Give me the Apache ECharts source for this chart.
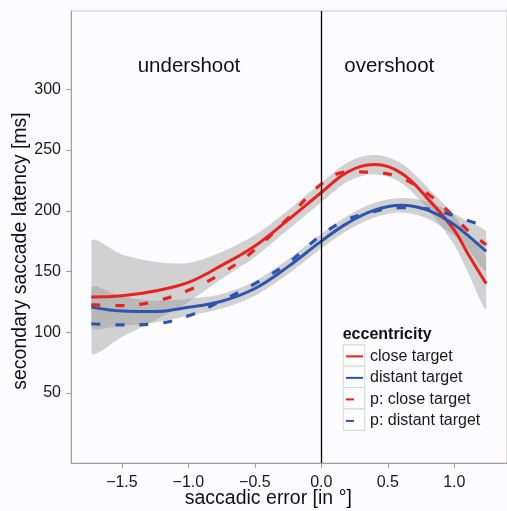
<!DOCTYPE html>
<html>
<head>
<meta charset="utf-8">
<script src="https://cdn.jsdelivr.net/npm/echarts@6/dist/echarts.min.js"></script>
<style>html,body{margin:0;padding:0;background:#fcfcfe;}#c{width:507px;height:511px;}</style>
</head>
<body>
<div id="c"></div>
<script>
// saccadic error [deg]
const xs = [-1.73, -1.5, -1.25, -1.0, -0.75, -0.5, -0.25, 0, 0.2, 0.4, 0.6, 0.8, 1.0, 1.1, 1.24];
// close target fit + CI
const closeFit   = [129, 130, 134, 141, 155, 171, 192.5, 215, 232, 238, 231, 210, 184, 165, 140];
const closeLower = [83, 96, 110, 125, 144, 162, 184.5, 207, 224, 230, 223, 201, 172, 150, 119];
const closeUpper = [175, 164, 158, 157, 166, 180, 200.5, 223, 240, 246, 239, 219, 196, 180, 161];
// distant target fit + CI
const distantFit   = [120.7, 117.5, 117, 120.5, 125.5, 136, 154, 175, 190, 200.5, 204.5, 200.5, 188.5, 180, 166.5];
const distantLower = [104.2, 105.5, 108, 113.5, 119.5, 130, 148, 169, 184, 194.5, 198.5, 193.5, 179.5, 169, 150.5];
const distantUpper = [137.2, 129.5, 126, 127.5, 131.5, 142, 160, 181, 196, 206.5, 210.5, 207.5, 197.5, 191, 182.5];
// predictions
const closePred   = [122.6, 122, 125.5, 134.5, 148.5, 168, 194, 222, 232, 231.5, 227, 214, 195, 184, 172];
const distantPred = [107, 106, 107, 113.5, 126, 140, 157, 180, 193, 199.5, 202.5, 201.5, 196, 192, 187];

const yTicks = [50, 100, 150, 200, 250, 300];
const xTicks = [-1.5, -1.0, -0.5, 0, 0.5, 1.0];
const names = ['close target', 'distant target', 'p: close target', 'p: distant target'];

const RED = '#e8231f', BLUE = '#2d55ad';
const FONT = "'Liberation Sans', Arial, sans-serif";
const BAND = 'rgba(150,150,150,0.42)';

const pair = (a) => xs.map((x, i) => [x, a[i]]);

function bandSeries(id, lower, upper) {
  return {
    type: 'custom', name: id, silent: true, z: 2,
    data: xs.map((x, i) => [x, lower[i], upper[i]]),
    encode: { x: 0, y: [1, 2] },
    renderItem: function (params, api) {
      if (params.dataIndex !== 0) return null;
      const top = xs.map((x, i) => api.coord([x, upper[i]]));
      const bot = xs.map((x, i) => api.coord([x, lower[i]])).reverse();
      const pts = top.concat(bot);
      let minX = Infinity, minY = Infinity, maxX = -Infinity, maxY = -Infinity;
      pts.forEach(p => { minX = Math.min(minX, p[0]); maxX = Math.max(maxX, p[0]); minY = Math.min(minY, p[1]); maxY = Math.max(maxY, p[1]); });
      return {
        type: 'group',
        children: [{
          type: 'polygon',
          shape: { points: pts, smooth: 0.3, smoothConstraint: [[minX, minY - 20], [maxX, maxY + 20]] },
          style: { fill: BAND, stroke: null }
        }]
      };
    }
  };
}

const chart = echarts.init(document.getElementById('c'));
const keyY0 = 344.3, keyH = 21.4;
const keyBoxes = [0,1,2,3].map(i => ({
  type: 'rect', left: 342.7, top: keyY0 + i * keyH, z: 5,
  shape: { width: 21.6, height: keyH },
  style: { fill: '#fbfbfb', stroke: '#d4d4d4', lineWidth: 1 }
}));

chart.setOption({
  backgroundColor: '#fcfcfe',
  animation: false,
  textStyle: { fontFamily: FONT },
  grid: { left: 71, top: 11, right: -2, bottom: 48, show: true, borderColor: '#ccc5c2', borderWidth: 1, backgroundColor: 'transparent' },
  xAxis: {
    type: 'value', min: -1.883, max: 1.3965,
    axisLine: { show: true, onZero: false, lineStyle: { color: '#a69d9a', width: 1 } },
    axisTick: { show: true, length: 5, customValues: xTicks, lineStyle: { color: '#a69d9a' } },
    axisLabel: { customValues: xTicks, margin: 12, fontSize: 16, color: '#1a1a1a', fontFamily: FONT,
      formatter: v => (v < 0 ? '\u2212' : '') + Math.abs(v).toFixed(1) },
    splitLine: { show: false }
  },
  yAxis: {
    type: 'value', min: -7.6, max: 364.4,
    axisLine: { show: true, onZero: false, lineStyle: { color: '#a69d9a', width: 1 } },
    axisTick: { show: true, length: 5, customValues: yTicks, lineStyle: { color: '#a69d9a' } },
    axisLabel: { customValues: yTicks, margin: 10, fontSize: 16, color: '#1a1a1a', fontFamily: FONT },
    splitLine: { show: false }
  },
  legend: {
    orient: 'vertical', left: 345, top: 347.8, itemWidth: 17, itemHeight: keyH, itemGap: 4.4, padding: 0,
    textStyle: { fontSize: 16, color: '#1a1a1a', fontFamily: FONT, padding: [0, 0, 0, 2] },
    itemStyle: { opacity: 0 },
    selectedMode: false,
    z: 10,
    data: [
      { name: names[0] },
      { name: names[1] },
      { name: names[2], lineStyle: { type: [8, 20] } },
      { name: names[3], lineStyle: { type: [8, 20] } }
    ]
  },
  graphic: [
    { type: 'text', x: 189, y: 66.7, z: 10,
      style: { text: 'undershoot', fontSize: 20.5, fontFamily: FONT, fill: '#111', align: 'center', verticalAlign: 'middle' } },
    { type: 'text', x: 389.3, y: 66.7, z: 10,
      style: { text: 'overshoot', fontSize: 20.5, fontFamily: FONT, fill: '#111', align: 'center', verticalAlign: 'middle' } },
    { type: 'text', x: 268.3, y: 499, z: 10,
      style: { text: 'saccadic error [in °]', fontSize: 19.5, fontFamily: FONT, fill: '#111', align: 'center', verticalAlign: 'middle' } },
    { type: 'text', x: 21, y: 251, rotation: Math.PI / 2, z: 10,
      style: { text: 'secondary saccade latency [ms]', fontSize: 19.5, fontFamily: FONT, fill: '#111', align: 'center', verticalAlign: 'middle' } },
    { type: 'text', x: 342.7, y: 335, z: 10,
      style: { text: 'eccentricity', fontSize: 16, fontWeight: 'bold', fontFamily: FONT, fill: '#111', align: 'left', verticalAlign: 'middle' } }
  ].concat(keyBoxes),
  series: [
    bandSeries('closeCI', closeLower, closeUpper),
    { type: 'line', name: names[0], data: pair(closeFit), smooth: 0.4, symbol: 'none', z: 2,
      lineStyle: { color: RED, width: 3 }, itemStyle: { color: RED } },
    bandSeries('distantCI', distantLower, distantUpper),
    { type: 'line', name: names[1], data: pair(distantFit), smooth: 0.4, symbol: 'none', z: 2,
      lineStyle: { color: BLUE, width: 3 }, itemStyle: { color: BLUE } },
    { type: 'line', name: names[2], data: pair(closePred), smooth: 0.4, symbol: 'none', z: 3,
      lineStyle: { color: RED, width: 3.2, type: [9, 15] }, itemStyle: { color: RED } },
    { type: 'line', name: names[3], data: pair(distantPred), smooth: 0.4, symbol: 'none', z: 3,
      lineStyle: { color: BLUE, width: 3.2, type: [9, 15] }, itemStyle: { color: BLUE },
      markLine: { silent: true, symbol: 'none', label: { show: false }, animation: false,
        lineStyle: { color: '#000', width: 1.3, type: 'solid' }, data: [{ xAxis: 0 }] } }
  ]
});
</script>
</body>
</html>
